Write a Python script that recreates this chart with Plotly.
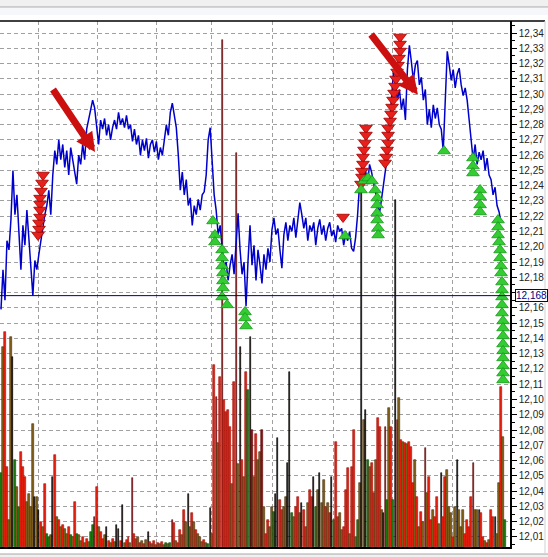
import plotly.graph_objects as go

# ---------------- data ----------------
price = [12.159, 12.185, 12.165, 12.204, 12.198, 12.218, 12.250, 12.221, 12.234, 12.211,
         12.185, 12.214, 12.201, 12.224, 12.204, 12.190, 12.168, 12.191, 12.185, 12.195,
         12.204, 12.214, 12.221, 12.227, 12.237, 12.221, 12.247, 12.263, 12.254, 12.270,
         12.257, 12.267, 12.252, 12.263, 12.247, 12.265, 12.257, 12.250, 12.241, 12.260,
         12.254, 12.267, 12.257, 12.277, 12.283, 12.288, 12.296, 12.291, 12.280, 12.267,
         12.283, 12.277, 12.284, 12.273, 12.280, 12.270, 12.278, 12.283, 12.277, 12.288,
         12.280, 12.284, 12.278, 12.286, 12.277, 12.280, 12.269, 12.277, 12.267, 12.273,
         12.260, 12.270, 12.263, 12.271, 12.258, 12.267, 12.270, 12.262, 12.269, 12.257,
         12.265, 12.260, 12.270, 12.280, 12.273, 12.288, 12.294, 12.286, 12.278, 12.260,
         12.237, 12.249, 12.234, 12.244, 12.227, 12.232, 12.214, 12.227, 12.221, 12.231,
         12.224, 12.234, 12.236, 12.247, 12.270, 12.278, 12.254, 12.234, 12.224, 12.208,
         12.214, 12.198, 12.185, 12.190, 12.178, 12.188, 12.195, 12.182, 12.204, 12.222,
         12.198, 12.182, 12.190, 12.161, 12.191, 12.214, 12.188, 12.201, 12.178, 12.198,
         12.188, 12.176, 12.195, 12.185, 12.199, 12.190, 12.211, 12.219, 12.208, 12.212,
         12.198, 12.186, 12.208, 12.216, 12.204, 12.214, 12.210, 12.219, 12.206, 12.216,
         12.229, 12.221, 12.212, 12.219, 12.204, 12.214, 12.210, 12.216, 12.201, 12.212,
         12.218, 12.208, 12.214, 12.204, 12.212, 12.216, 12.207, 12.211, 12.203, 12.214,
         12.210, 12.212, 12.201, 12.208, 12.204, 12.210, 12.199, 12.197, 12.206, 12.221,
         12.241, 12.252, 12.244, 12.250, 12.241, 12.254, 12.249, 12.242, 12.236, 12.227,
         12.222, 12.231, 12.241, 12.250, 12.260, 12.280, 12.299, 12.314, 12.306, 12.296,
         12.303, 12.290, 12.297, 12.283, 12.316, 12.332, 12.321, 12.309, 12.319, 12.322,
         12.306, 12.311, 12.296, 12.303, 12.280, 12.290, 12.278, 12.293, 12.284, 12.291,
         12.280, 12.277, 12.263, 12.299, 12.328, 12.319, 12.309, 12.316, 12.304, 12.313,
         12.317, 12.306, 12.299, 12.304, 12.296, 12.283, 12.270, 12.257, 12.267, 12.254,
         12.262, 12.257, 12.263, 12.250, 12.258, 12.247, 12.244, 12.234, 12.239, 12.227,
         12.223, 12.216]

volume = [74, 200, 215, 80, 27, 210, 190, 87, 60, 40,
          95, 80, 70, 45, 53, 40, 123, 50, 50, 37,
          25, 20, 63, 13, 10, 12, 70, 92, 30, 27,
          20, 22, 18, 13, 20, 12, 10, 45, 13, 12,
          6, 10, 4, 8, 5, 15, 22, 30, 60, 20,
          15, 8, 12, 20, 6, 4, 8, 5, 22, 18,
          6, 42, 4, 7, 10, 4, 69, 13, 8, 10,
          4, 6, 3, 7, 15, 5, 3, 6, 2, 4,
          3, 5, 2, 4, 3, 4, 27, 24, 6, 4,
          17, 12, 37, 25, 53, 20, 34, 25, 17, 13,
          10, 5, 7, 4, 3, 39, 13, 182, 150, 104,
          170, 507, 147, 135, 137, 120, 63, 165, 394, 83,
          200, 87, 70, 175, 157, 210, 117, 70, 113, 87,
          95, 117, 40, 13, 27, 20, 40, 35, 53, 109,
          47, 37, 40, 50, 84, 175, 34, 30, 40, 50,
          34, 44, 37, 20, 44, 57, 50, 70, 40, 57,
          74, 44, 67, 40, 44, 34, 70, 27, 105, 30,
          34, 17, 20, 57, 79, 13, 80, 117, 10, 27,
          64, 357, 127, 137, 87, 80, 84, 54, 87, 129,
          120, 37, 34, 120, 47, 139, 120, 47, 347, 127,
          149, 107, 105, 104, 103, 105, 100, 64, 87, 50,
          20, 35, 25, 99, 54, 70, 27, 37, 30, 50,
          23, 74, 30, 70, 77, 40, 34, 10, 40, 87,
          37, 20, 37, 13, 27, 20, 50, 84, 37, 37,
          37, 34, 10, 6, 4, 7, 37, 30, 30, 13,
          64, 160, 110, 27]

# bar kind per volume bar: r=sell, g=buy, o=mixed, d=dark sell spike, k=black spike
vol_kind = list("gorrookgog" "rrrooookok" "rorggokror" "oroorgorgo" "ororoggdro"
                "rrokrorokk" "rkorrodrro" "rorokroror" "orogogdror" "rorokgroro"
                "oorogkordo" "rdrrrrordo" "krorgkdoro" "odorroogkk" "rrookkgorr"
                "okrrorrkgo" "koororkgrr" "oorrrorrog" "okokgorror" "rokdgorgkd"
                "orororrror" "orodorrorr" "okrrooorok" "ooorrrrdoo" "krrororrko"
                "orog")

sell_idx = [21.1, 20.6, 20.1, 19.6, 19.6, 19.6, 19.6, 19.1, 19.1, 18.6,
            183.2, 183.2, 182.7, 182.2, 181.7, 181.7, 181.2, 181.2, 180.7,
            194.3, 194.3, 194.3, 193.8, 193.3, 192.8,
            200.3, 200.3, 200.3, 199.8, 199.3, 198.8, 198.3, 197.8, 197.3, 196.8,
            196.3, 195.8, 195.3,
            171.7]
sell_px = [12.247, 12.2418, 12.2365, 12.2319, 12.228, 12.2241, 12.2195, 12.2156, 12.2116, 12.2077,
           12.2778, 12.2732, 12.268, 12.2634, 12.2588, 12.2542, 12.2496, 12.2457, 12.2411,
           12.2778, 12.2732, 12.268, 12.2634, 12.2588, 12.2549,
           12.3374, 12.3328, 12.3282, 12.3236, 12.319, 12.3145, 12.3099, 12.3053, 12.3007, 12.2961,
           12.2915, 12.287, 12.2824,
           12.2195]

buy_idx = [106.4, 107.4, 107.4, 111.0, 111.0, 111.0, 111.4, 111.4, 111.4, 111.0, 113.5,
           122.5, 122.5, 123.0,
           172.7,
           180.7, 182.2, 184.2, 186.2, 187.8, 188.8, 188.8, 188.8, 188.8, 189.3, 189.3,
           222.4,
           236.9, 236.9, 236.9, 240.5, 240.5, 240.5, 240.5,
           249.5, 249.5, 249.5, 250.0, 250.5, 250.5, 251.0, 251.0, 251.5, 251.5, 251.5,
           251.5, 251.5, 252.0, 252.0, 252.0, 252.0, 252.0, 252.0, 252.0, 252.0, 252.0]
buy_px = [12.2169, 12.2077, 12.2031, 12.1979, 12.1927, 12.1874, 12.1828, 12.1776, 12.173, 12.1671, 12.1619,
          12.1573, 12.1534, 12.1481,
          12.2071,
          12.2372, 12.2431, 12.245, 12.2431, 12.2372, 12.2319, 12.2274, 12.2221, 12.2175, 12.2123, 12.2077,
          12.2627,
          12.2581, 12.2529, 12.2483, 12.2372, 12.2326, 12.2274, 12.2228,
          12.2175, 12.2129, 12.2077, 12.2031, 12.1979, 12.1927, 12.1874, 12.1828, 12.1769, 12.1717, 12.1671,
          12.1619, 12.1566, 12.1514, 12.1468, 12.1416, 12.1363, 12.1318, 12.1272, 12.1219, 12.1173, 12.1128]

x_grid = [18.6, 48.2, 78.3, 105.9, 136.5, 166.7, 196.3, 226.4]
price_ticks = [12.01, 12.02, 12.03, 12.04, 12.05, 12.06, 12.07, 12.08, 12.09, 12.10,
               12.11, 12.12, 12.13, 12.14, 12.15, 12.16, 12.17, 12.18, 12.19, 12.20,
               12.21, 12.22, 12.23, 12.24, 12.25, 12.26, 12.27, 12.28, 12.29, 12.30,
               12.31, 12.32, 12.33, 12.34]
price_tick_text = ["12,01", "12,02", "12,03", "12,04", "12,05", "12,06", "12,07", "12,08",
                   "12,09", "12,10", "12,11", "12,12", "12,13", "12,14", "12,15", "12,16",
                   "", "12,18", "12,19", "12,20", "12,21", "12,22", "12,23", "12,24",
                   "12,25", "12,26", "12,27", "12,28", "12,29", "12,30", "12,31", "12,32",
                   "12,33", "12,34"]
last_price = 12.168
last_price_text = "12,168"
y_min, y_max = 12.00339, 12.34786

# ---------------- styles ----------------
fill = {"r": "#e8200f", "g": "#1f7a12", "o": "#80601a", "d": "#8c1010", "k": "#1a0c04"}
edge = {"r": "#a01008", "g": "#0f4a0a", "o": "#4a300a", "d": "#5a0808", "k": "#000000"}
bar_w = {"r": 1.0, "g": 1.0, "o": 1.0, "d": 0.55, "k": 0.5}
kinds = (vol_kind + ["o"] * len(volume))[:len(volume)]

FONT = "Liberation Sans"
GRID = "#a0a0a0"
DASH = "4px,3px"

fig = go.Figure()
fig.add_trace(go.Bar(
    x=list(range(len(volume))), y=volume, yaxis="y",
    width=[bar_w[k] for k in kinds],
    marker=dict(color=[fill[k] for k in kinds],
                line=dict(color=[edge[k] for k in kinds], width=0.6)),
    hoverinfo="skip"))
fig.add_trace(go.Scatter(
    x=list(range(len(price))), y=price, yaxis="y2", mode="lines",
    line=dict(color="#0000cc", width=1.5), hoverinfo="skip"))
fig.add_trace(go.Scatter(
    x=sell_idx, y=sell_px, yaxis="y2", mode="markers",
    marker=dict(symbol="triangle-down", size=11, color="#e8201c",
                line=dict(color="#a00000", width=0.8)), hoverinfo="skip"))
fig.add_trace(go.Scatter(
    x=buy_idx, y=buy_px, yaxis="y2", mode="markers",
    marker=dict(symbol="triangle-up", size=11, color="#33cc33",
                line=dict(color="#149914", width=0.8)), hoverinfo="skip"))

W, PW, PH = 548, 510, 526


def py(pix):
    return 1 + (21 - pix) / PH


def px(pix):
    return pix / PW


shapes = [
    dict(type="rect", xref="paper", yref="paper", x0=0, x1=px(W), y0=py(7), y1=py(0),
         fillcolor="#f0f0f0", line=dict(width=0)),
    dict(type="line", xref="paper", yref="paper", x0=0, x1=px(W), y0=py(7), y1=py(7),
         line=dict(color="#a8a8a8", width=1)),
    dict(type="rect", xref="paper", yref="paper", x0=0, x1=px(W), y0=py(15), y1=py(8),
         fillcolor="#f5f7fb", line=dict(width=0)),
    dict(type="line", xref="paper", yref="paper", x0=0, x1=px(545), y0=1, y1=1,
         line=dict(color="black", width=1.5)),
    dict(type="line", xref="paper", yref="paper", x0=px(545), x1=px(545), y0=py(553), y1=py(21),
         line=dict(color="#d0d0d0", width=1)),
    dict(type="rect", xref="paper", yref="paper", x0=0, x1=px(W), y0=py(557), y1=py(554),
         fillcolor="#f0f0f0", line=dict(width=0)),
    dict(type="line", xref="paper", yref="paper", x0=0, x1=px(W), y0=py(554), y1=py(554),
         line=dict(color="#a8a8a8", width=1)),
    dict(type="line", xref="paper", yref="y2", x0=0, x1=1, y0=last_price, y1=last_price,
         line=dict(color="#000080", width=1)),
]

annotations = [
    dict(xref="paper", x=1, xanchor="left", xshift=5, yref="y2", y=last_price,
         text=last_price_text, showarrow=False, bgcolor="white", bordercolor="#000080",
         borderwidth=1, borderpad=0, font=dict(family=FONT, size=10, color="#000080")),
    dict(xref="x", yref="y2", x=47.2, y=12.262, axref="x", ayref="y2", ax=25.6, ay=12.304,
         text="", showarrow=True, arrowhead=2, arrowsize=0.55, arrowwidth=7,
         arrowcolor="#cc1010", standoff=0),
    dict(xref="x", yref="y2", x=209.3, y=12.2995, axref="x", ayref="y2", ax=185.2, ay=12.340,
         text="", showarrow=True, arrowhead=2, arrowsize=0.55, arrowwidth=7,
         arrowcolor="#cc1010", standoff=0),
]

fig.update_layout(
    width=W, height=557,
    margin=dict(l=0, r=W - PW, t=21, b=557 - 21 - PH, autoexpand=False),
    paper_bgcolor="white", plot_bgcolor="white",
    showlegend=False, bargap=0, separators=", ",
    shapes=shapes, annotations=annotations,
    xaxis=dict(range=[-0.5, 255.5], tickmode="array", tickvals=x_grid,
               showticklabels=False, ticks="", showgrid=True, gridcolor=GRID,
               griddash=DASH, gridwidth=1, zeroline=False,
               showline=True, linecolor="black", linewidth=1.5),
    yaxis=dict(range=[0, PH], visible=False, showgrid=False, fixedrange=True),
    yaxis2=dict(overlaying="y", side="right", anchor="x", range=[y_min, y_max],
                tickmode="array", tickvals=price_ticks, ticktext=price_tick_text,
                ticks="outside", ticklen=5, tickcolor="black", tickwidth=1,
                showgrid=True, gridcolor=GRID, griddash=DASH, gridwidth=1,
                zeroline=False, showline=True, linecolor="black", linewidth=1.5,
                tickfont=dict(family=FONT, size=10, color="#222222"),
                minor=dict(dtick=0.005, tick0=12.0, ticks="outside", ticklen=3,
                           tickcolor="black", showgrid=False)),
)

fig.write_html("out.html", config={"displayModeBar": False},
               post_script="document.body.style.margin='0';document.body.style.overflow='hidden';")
